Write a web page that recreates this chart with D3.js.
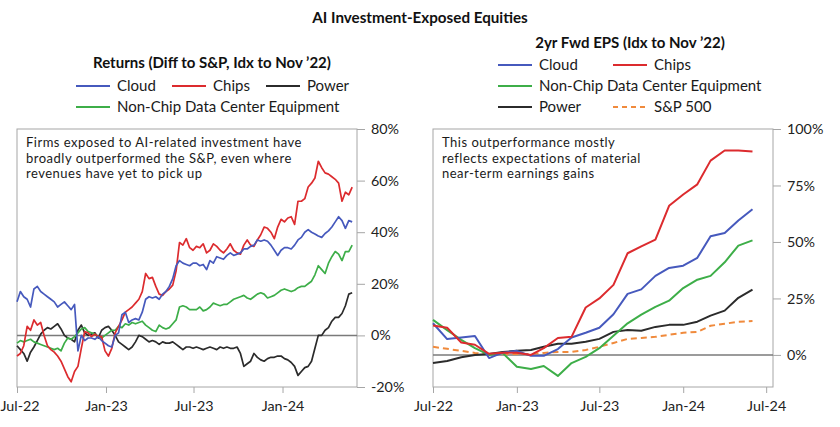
<!DOCTYPE html>
<html>
<head>
<meta charset="utf-8">
<script src="https://cdn.jsdelivr.net/npm/d3@7"></script>
<style>
  body { margin: 0; background: #fff; }
  svg { font-family: Lato, "Open Sans", sans-serif; }
</style>
</head>
<body>
<div id="chart"></div>
<script>
// ---- data ----
// left panel: weekly readings from 1 Jul 2022, % difference to S&P (idx Nov '22)
const returnsStart = "2022-07-01";
const cloudReturns = [
  13, 17, 15, 14, 11, 18, 19, 17, 16, 15,
  14, 13, 11, 12, 13, 11.5, 10, 12, -6, 0,
  -2, -1, -1, -1.5, -0.5, -2, -3, -4, -4.5, 0,
  1, 8, 9, 5, 6, 6.5, 6, 9, 14, 15,
  14.5, 15, 14, 16, 17, 19, 22, 27, 29, 28,
  27.5, 27, 28, 28, 27, 27.5, 25.5, 29, 28, 30.5,
  30, 29.5, 31, 32, 31, 31.5, 32, 33.5, 33.5, 34.5,
  35, 37, 36.5, 37, 36.5, 35, 33, 31, 33, 34,
  34, 33.5, 35, 37, 38, 40, 41, 40, 39.3, 38.5,
  38, 39.5, 40.5, 42, 44, 46, 44.5, 41.5, 44.5, 44
];
const chipsReturns = [
  -8, -7, -4, 3.5, 2, 6, 4, 5, 0, -4,
  -5.5, -6.5, -8, -10, -13, -16, -18, -14, -12, -5,
  1.5, 1, -0.5, 0.5, -0.5, -0.5, -6, -8, -5, 1,
  3.5, 6, 9, 10, 11, 12.5, 14, 17, 24, 22,
  22.5, 19, 16, 15.5, 17, 18, 19.5, 25, 36, 35,
  37.5, 34, 33, 34.5, 34, 35.5, 32, 33, 35.5, 34.5,
  33, 32, 33.5, 35.5, 33, 32, 31.5, 35, 37, 35,
  34.5, 37, 39, 42, 41.5, 40, 37.5, 42, 45, 44,
  45.5, 46, 43, 52, 52, 53, 57.5, 59, 61, 67.5,
  65, 63, 62.5, 61.5, 60.5, 59, 52, 55.5, 54.5, 57.5
];
const powerReturns = [
  -4, -5.5, -7, -10, -6.5, -4.5, -2, 0.5, 2, 3,
  2.5, 3.5, 4.5, 2.5, 0, -1, -1.5, -2.5, 2, 4,
  1, 0, 0.5, 1, -1, 2, 3, 3.5, 2, 0,
  -2.5, -3.5, -4.5, -5.5, -4.5, -2.5, 0, -0.5, -1.5, -2.5,
  -2, -2.5, -3.5, -2.5, -3, -3, -2.5, -3.5, -4.5, -5.5,
  -4.5, -4.5, -5, -4.5, -5, -5.5, -5, -4.5, -5, -5.5,
  -4.5, -5, -4.5, -5, -5, -4.5, -7, -12, -11, -10,
  -7, -8.5, -9.5, -10, -9, -8.5, -8.5, -8, -8, -9,
  -9.5, -10.5, -12, -15.5, -14, -12.5, -12, -10, -5, 0,
  0, 2, 3, 5.5, 7, 7, 8.5, 11.5, 16, 16.5
];
const dcEquipReturns = [
  -3, -2, -2.5, -2, -1.5, -2.5, -3, -3.5, -4, -4.5,
  -5, -5.5, -5, -6, -3, -1, -1.5, -0.5, 1, 2.5,
  3, 1.5, 1, 0.5, -0.5, -1, 0, 1, 2, 2,
  3.5, 3, 4.5, 4, 5, 4.5, 5, 5.5, 4, 3,
  2, 1.5, 4, 3, 2.5, 3, 4.5, 6, 11, 11.5,
  11, 10, 10, 10, 11, 9.5, 10, 11, 12.5, 12,
  11.5, 12, 12, 13, 14, 14.5, 15, 15.5, 14.5, 14,
  15, 16, 16.5, 16, 14.5, 15, 15.5, 16.5, 17.5, 18,
  17.5, 17, 17.5, 18.5, 19, 19, 20, 21, 23.5, 27,
  25.5, 24, 28, 30.5, 32.5, 31.5, 29, 32.5, 32.5, 35
];

// right panel: monthly 2yr fwd EPS, % (idx Nov '22)
const epsMonths = [
  "2022-07", "2022-08", "2022-09", "2022-10", "2022-11", "2022-12",
  "2023-01", "2023-02", "2023-03", "2023-04", "2023-05", "2023-06",
  "2023-07", "2023-08", "2023-09", "2023-10", "2023-11", "2023-12",
  "2024-01", "2024-02", "2024-03", "2024-04", "2024-05", "2024-06"
];
const epsCloud = [14, 7, 7.7, 8.4, -1.4, 1, 1.8, -0.4, -0.4, 2.6, 7.7, 9.8, 12, 18, 27, 29, 35, 38.5, 39.5, 43, 52.5, 54, 59.5, 64.5];
const epsChips = [13, 12, 5.5, 4.5, 0.5, 1, 1, 0, 3, 7.5, 8, 21, 25, 31, 45, 48, 51, 66, 71, 75.5, 86, 90.5, 90.5, 90];
const epsDcEquip = [15.5, 11, 6.7, 3, 0, 0.8, -5.2, -6.2, -4.9, -9.3, -3.6, -0.9, 3, 8.5, 14, 17.8, 21.3, 24, 29.6, 33.3, 35, 41, 48.4, 50.7];
const epsPower = [-3.6, -2.7, -1, 0, 0.4, 1.3, 1.8, 2.2, 3.6, 4.9, 4.9, 5.8, 7.1, 10.2, 11, 10.7, 12.4, 13.3, 13.3, 14.7, 17.4, 19.6, 25.3, 28.9];
const epsSP500 = [3.6, 2.7, 1.8, 0.9, 0.4, 0.4, 0.4, 0.4, 0.9, 1.3, 1.3, 2.2, 3.6, 5.3, 7.1, 7.5, 8, 8.9, 9.8, 10.2, 12.9, 13.8, 14.7, 15];

const leftTicks = ["2022-07-01", "2023-01-01", "2023-07-01", "2024-01-01"];
const rightTicks = ["2022-07-01", "2023-01-01", "2023-07-01", "2024-01-01", "2024-07-01"];
const leftYTicks = [-20, 0, 20, 40, 60, 80];
const rightYTicks = [0, 25, 50, 75, 100];

const colors = {
  cloud: "#4659bd",
  chips: "#dc2b2e",
  power: "#2b2b2b",
  dc: "#3dae48",
  sp: "#f08a3c"
};

// ---- chart ----
const W = 840, H = 427;
const svg = d3.select("#chart").append("svg")
  .attr("width", W).attr("height", H);

const parseDay = d3.timeParse("%Y-%m-%d");
const parseMonth = d3.timeParse("%Y-%m");
const fmtTick = d3.timeFormat("%b-%y");

svg.append("text")
  .attr("x", 420).attr("y", 23)
  .attr("text-anchor", "middle")
  .style("font-size", "15.2px").style("font-weight", "bold").attr("fill", "#111")
  .text("AI Investment-Exposed Equities");

function drawPanel(p) {
  const g = svg.append("g");
  const x = d3.scaleTime().domain(p.xDomain).range([p.x0, p.x1]);
  const y = d3.scaleLinear().domain(p.yDomain).range([p.y1, p.y0]);

  // frame
  g.append("rect")
    .attr("x", p.x0).attr("y", p.y0)
    .attr("width", p.x1 - p.x0).attr("height", p.y1 - p.y0)
    .attr("fill", "none").attr("stroke", "#a6a6a6").attr("stroke-width", 1);

  // axes
  const yAxis = g.append("g")
    .attr("transform", `translate(${p.x1},0)`)
    .call(d3.axisRight(y).tickValues(p.yTicks).tickSize(8).tickPadding(6).tickFormat(d => d + "%"));
  const xAxis = g.append("g")
    .attr("transform", `translate(0,${p.y1})`)
    .call(d3.axisBottom(x).tickValues(p.xTicks.map(parseDay)).tickSize(6).tickPadding(8).tickFormat(fmtTick));
  [yAxis, xAxis].forEach(a => {
    a.select(".domain").remove();
    a.selectAll("line").attr("stroke", "#a6a6a6");
    a.selectAll("text").attr("fill", "#222").style("font-size", "14.3px")
      .style("font-family", "Lato, 'Open Sans', sans-serif");
  });
  // keep the first date label inside the page edge
  xAxis.selectAll(".tick text").each(function () {
    const t = d3.select(this);
    const tx = +d3.select(this.parentNode).attr("transform").match(/translate\(([-\d.]+)/)[1];
    const w = this.getComputedTextLength();
    if (tx - w / 2 < 0.5) t.attr("x", 0.5 - tx + w / 2);
  });

  // zero line
  g.append("line")
    .attr("x1", p.x0).attr("x2", p.x1)
    .attr("y1", y(0)).attr("y2", y(0))
    .attr("stroke", "#7a7a7a").attr("stroke-width", 1.5);

  const line = d3.line().x(d => x(d.date)).y(d => y(d.value));
  g.selectAll(".series")
    .data(p.series)
    .join("path")
    .attr("class", "series")
    .attr("fill", "none")
    .attr("stroke", d => d.color)
    .attr("stroke-width", p.lineWidth)
    .attr("stroke-linejoin", "round")
    .attr("stroke-dasharray", d => d.dash || null)
    .attr("d", d => line(d.values));

  // annotation
  g.selectAll(".note")
    .data(p.note)
    .join("text")
    .attr("x", p.x0 + 9)
    .attr("y", (d, i) => p.y0 + 18 + i * 15.6)
    .attr("fill", "#1a1a1a")
    .style("font-size", "13px")
    .style("letter-spacing", "0.5px")
    .text(d => d);

  // subtitle
  g.append("text")
    .attr("x", p.titleX).attr("y", p.titleY)
    .attr("text-anchor", "middle")
    .style("font-size", "15px").style("font-weight", "bold").attr("fill", "#111")
    .text(p.title);

  // legend
  const leg = g.selectAll(".leg")
    .data(p.legend)
    .join("g")
    .attr("class", "leg")
    .attr("transform", d => `translate(${d.x},${d.y})`);
  leg.append("line")
    .attr("x1", 0).attr("x2", 34)
    .attr("stroke", d => d.color).attr("stroke-width", 2)
    .attr("stroke-dasharray", d => d.dash || null);
  leg.append("text")
    .attr("x", 41).attr("y", 5)
    .attr("fill", "#1a1a1a")
    .style("font-size", "15px")
    .text(d => d.name);
}

// left panel series
const start = parseDay(returnsStart);
const weekly = arr => arr.map((v, i) => ({ date: d3.timeDay.offset(start, 7 * i), value: v }));
drawPanel({
  x0: 17, x1: 357, y0: 129, y1: 387,
  xDomain: [parseDay("2022-07-01"), parseDay("2024-06-03")],
  yDomain: [-20, 80],
  xTicks: leftTicks, yTicks: leftYTicks,
  lineWidth: 1.7,
  series: [
    { color: colors.power, values: weekly(powerReturns) },
    { color: colors.dc, values: weekly(dcEquipReturns) },
    { color: colors.chips, values: weekly(chipsReturns) },
    { color: colors.cloud, values: weekly(cloudReturns) }
  ],
  note: [
    "Firms exposed to AI-related investment have",
    "broadly outperformed the S&P, even where",
    "revenues have yet to pick up"
  ],
  title: "Returns (Diff to S&P, Idx to Nov \u201922)",
  titleX: 212, titleY: 68,
  legend: [
    { name: "Cloud", color: colors.cloud, x: 76, y: 86 },
    { name: "Chips", color: colors.chips, x: 172, y: 86 },
    { name: "Power", color: colors.power, x: 266, y: 86 },
    { name: "Non-Chip Data Center Equipment", color: colors.dc, x: 76, y: 107 }
  ]
});

// right panel series
const monthly = arr => arr.map((v, i) => ({ date: parseMonth(epsMonths[i]), value: v }));
drawPanel({
  x0: 433, x1: 773, y0: 129, y1: 387,
  xDomain: [parseDay("2022-07-01"), parseDay("2024-07-16")],
  yDomain: [-14.2, 100],
  xTicks: rightTicks, yTicks: rightYTicks,
  lineWidth: 2,
  series: [
    { color: colors.sp, dash: "6,4", values: monthly(epsSP500) },
    { color: colors.power, values: monthly(epsPower) },
    { color: colors.dc, values: monthly(epsDcEquip) },
    { color: colors.cloud, values: monthly(epsCloud) },
    { color: colors.chips, values: monthly(epsChips) }
  ],
  note: [
    "This outperformance mostly",
    "reflects expectations of material",
    "near-term earnings gains"
  ],
  title: "2yr Fwd EPS (Idx to Nov \u201922)",
  titleX: 630, titleY: 48,
  legend: [
    { name: "Cloud", color: colors.cloud, x: 498, y: 65 },
    { name: "Chips", color: colors.chips, x: 613, y: 65 },
    { name: "Non-Chip Data Center Equipment", color: colors.dc, x: 498, y: 86 },
    { name: "Power", color: colors.power, x: 498, y: 107 },
    { name: "S&P 500", color: colors.sp, dash: "5,4", x: 613, y: 107 }
  ]
});
</script>
</body>
</html>
